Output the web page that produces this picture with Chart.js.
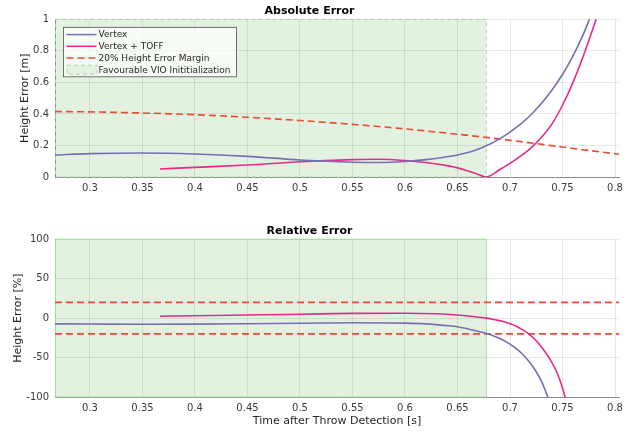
<!DOCTYPE html>
<html>
<head>
<meta charset="utf-8">
<title>Height Error</title>
<script src="https://cdn.jsdelivr.net/npm/chart.js@4.4.1/dist/chart.umd.min.js"></script>
<style>
  body { margin: 0; background: #fff; }
  #wrap { position: relative; width: 635px; height: 432px; }
  #absChart { position: absolute; left: 0; top: 0; }
  #relChart { position: absolute; left: 0; top: 220px; }
</style>
</head>
<body>
<div id="wrap">
  <canvas id="absChart" width="635" height="200"></canvas>
  <canvas id="relChart" width="635" height="212"></canvas>
</div>
<script>
// ---- data ----
const seriesNames = ['Vertex', 'Vertex + TOFF', '20% Height Error Margin', 'Favourable VIO Inititialization'];
const timeRange = [0.2667, 0.8038];
const vioEnd = 0.677;
const xTicks = [0.3, 0.35, 0.4, 0.45, 0.5, 0.55, 0.6, 0.65, 0.7, 0.75, 0.8];
const absTicks = [0, 0.2, 0.4, 0.6, 0.8, 1];
const relTicks = [-100, -50, 0, 50, 100];

// absolute error [m]
const vertexAbsT = [0.2667, 0.30, 0.35, 0.40, 0.45, 0.50, 0.55, 0.575, 0.60, 0.62, 0.64, 0.655, 0.667, 0.677, 0.69, 0.70, 0.71, 0.72, 0.73, 0.74, 0.75, 0.76, 0.77, 0.775, 0.78];
const vertexAbs  = [0.139, 0.148, 0.152, 0.146, 0.131, 0.108, 0.094, 0.092, 0.098, 0.110, 0.128, 0.148, 0.170, 0.196, 0.242, 0.285, 0.335, 0.395, 0.467, 0.552, 0.650, 0.768, 0.908, 0.990, 1.080];
const toffAbsT = [0.3667, 0.40, 0.45, 0.50, 0.55, 0.575, 0.60, 0.62, 0.64, 0.65, 0.66, 0.67, 0.677, 0.69, 0.70, 0.71, 0.72, 0.73, 0.74, 0.75, 0.76, 0.77, 0.78, 0.785];
const toffAbs  = [0.051, 0.061, 0.076, 0.097, 0.110, 0.113, 0.105, 0.092, 0.072, 0.058, 0.038, 0.016, 0.0, 0.046, 0.086, 0.132, 0.185, 0.252, 0.337, 0.455, 0.600, 0.770, 0.960, 1.060];
const marginT   = [0.2667, 0.30, 0.35, 0.40, 0.45, 0.50, 0.55, 0.60, 0.65, 0.677, 0.70, 0.75, 0.8038];
const marginAbs = [0.415, 0.413, 0.406, 0.395, 0.379, 0.358, 0.334, 0.305, 0.271, 0.251, 0.233, 0.190, 0.144];

// relative error [%]
const vertexRelT = [0.2667, 0.30, 0.35, 0.40, 0.45, 0.50, 0.55, 0.60, 0.62, 0.64, 0.65, 0.662, 0.6778, 0.6857, 0.6937, 0.70, 0.706, 0.7111, 0.7175, 0.7238, 0.7302, 0.7359, 0.738];
const vertexRel  = [-7.2, -7.5, -7.8, -7.6, -7.1, -6.5, -5.8, -6.3, -7.3, -9.5, -11, -14.3, -19.5, -23.3, -28, -33, -38.5, -44.5, -54, -65.5, -80.5, -100, -108];
const toffRelT = [0.3667, 0.40, 0.45, 0.50, 0.55, 0.60, 0.63, 0.65, 0.662, 0.6778, 0.6857, 0.6937, 0.70, 0.706, 0.7111, 0.7175, 0.7238, 0.7302, 0.738, 0.7444, 0.7492, 0.7524, 0.754];
const toffRel  = [2.5, 3.0, 4.0, 5.0, 6.0, 6.3, 5.5, 4.0, 2.5, 0, -2, -4.3, -7, -10.2, -14, -19.5, -27, -37, -52, -68, -85, -100, -110];
const relMargin = [20, -20];

// ---- styles ----
const FONT = 'DejaVu Sans';
const colVertex = '#7570b3';
const colToff = '#e7298a';
const colMargin = '#ec4a35';
const vioFill = '#e3f2e0';
const vioEdge = '#a3d89d';
const gridCol = 'rgba(0,0,0,0.09)';
const tickCol = '#3a3a3a';

Chart.defaults.font.family = FONT;
Chart.defaults.color = tickCol;

const pts = (ts, ys) => ts.map((t, i) => ({ x: t, y: ys[i] }));

function lineSet(label, data, color, dash) {
  return {
    label, data,
    borderColor: color, backgroundColor: color,
    borderWidth: 1.6, borderDash: dash || [],
    pointRadius: 0, fill: false,
    cubicInterpolationMode: 'monotone'
  };
}

// green "favourable VIO" area, fill under the grid, edge over the axes
const vioRegion = {
  id: 'vioRegion',
  beforeDraw(chart, args, opts) {
    const { ctx, chartArea: a, scales: { x } } = chart;
    const xe = x.getPixelForValue(vioEnd);
    ctx.save();
    ctx.fillStyle = vioFill;
    ctx.fillRect(a.left, a.top, xe - a.left, a.bottom - a.top);
    ctx.restore();
  },
  beforeDatasetsDraw(chart, args, opts) {
    const { ctx, chartArea: a, scales: { x } } = chart;
    const xe = x.getPixelForValue(vioEnd);
    ctx.save();
    ctx.strokeStyle = vioEdge;
    ctx.lineWidth = 1;
    ctx.setLineDash(opts.dash || []);
    ctx.strokeRect(a.left + 0.5, a.top, xe - a.left, a.bottom - a.top);
    ctx.restore();
  }
};

// legend box in the upper left corner of the top plot
const absLegend = {
  id: 'absLegend',
  afterDraw(chart) {
    const { ctx, chartArea: a } = chart;
    const x0 = a.left + 8.5, y0 = a.top + 8;
    const w = 173, h = 49.5, row = 11.7;
    ctx.save();
    ctx.fillStyle = 'rgba(255,255,255,0.7)';
    ctx.fillRect(x0, y0, w, h);
    ctx.strokeStyle = '#505050';
    ctx.lineWidth = 0.8;
    ctx.strokeRect(x0, y0, w, h);
    ctx.font = '9px "' + FONT + '"';
    ctx.textBaseline = 'middle';
    seriesNames.forEach((name, i) => {
      const y = y0 + 7.3 + i * row;
      const ds = chart.data.datasets[i];
      if (ds) {
        ctx.strokeStyle = ds.borderColor;
        ctx.lineWidth = 1.5;
        ctx.setLineDash(ds.borderDash);
        ctx.beginPath();
        ctx.moveTo(x0 + 3, y);
        ctx.lineTo(x0 + 33, y);
        ctx.stroke();
      } else {
        ctx.fillStyle = vioFill;
        ctx.fillRect(x0 + 3, y - 4.5, 30, 9);
        ctx.strokeStyle = vioEdge;
        ctx.lineWidth = 1;
        ctx.setLineDash([4, 3]);
        ctx.strokeRect(x0 + 3.5, y - 4.5, 30, 9);
      }
      ctx.setLineDash([]);
      ctx.fillStyle = '#262626';
      ctx.fillText(name, x0 + 35, y + 0.5);
    });
    ctx.restore();
  }
};

function makeOptions(title, yTitle, yMin, yMax, yTickVals, yTitlePad, xTitle, xHeight, dash) {
  return {
    responsive: false,
    animation: false,
    layout: { padding: { left: 0, right: 16, top: 0, bottom: 0 } },
    plugins: {
      legend: { display: false },
      tooltip: { enabled: false },
      title: {
        display: true, text: title, color: '#000',
        font: { size: 11, weight: 'bold', family: FONT },
        padding: { top: 4.4, bottom: 1.7 }
      },
      vioRegion: { dash }
    },
    scales: {
      x: {
        type: 'linear', min: timeRange[0], max: timeRange[1],
        afterBuildTicks: s => { s.ticks = xTicks.map(v => ({ value: v })); },
        afterFit: s => { s.height = xHeight; },
        ticks: { font: { size: 10 }, color: tickCol, padding: 5, maxRotation: 0,
                 callback: v => String(+v.toFixed(2)) },
        grid: { color: gridCol, drawTicks: false },
        border: { color: '#8a8a8a', width: 1 },
        title: { display: !!xTitle, text: xTitle, color: '#262626',
                 font: { size: 11 }, padding: { top: 0, bottom: 4.4 } }
      },
      y: {
        min: yMin, max: yMax,
        afterBuildTicks: s => { s.ticks = yTickVals.map(v => ({ value: v })); },
        afterFit: s => { s.width = 55; },
        ticks: { font: { size: 10 }, color: tickCol, padding: 6,
                 callback: v => String(+v.toFixed(1)) },
        grid: { color: gridCol, drawTicks: false },
        border: { color: '#8a8a8a', width: 1 },
        title: { display: true, text: yTitle, color: '#262626',
                 font: { size: 11 }, padding: { top: yTitlePad, bottom: 0 } }
      }
    }
  };
}

new Chart(document.getElementById('absChart'), {
  type: 'line',
  data: {
    datasets: [
      lineSet(seriesNames[0], pts(vertexAbsT, vertexAbs), colVertex),
      lineSet(seriesNames[1], pts(toffAbsT, toffAbs), colToff),
      lineSet(seriesNames[2], pts(marginT, marginAbs), colMargin, [7, 4])
    ]
  },
  options: makeOptions('Absolute Error', 'Height Error [m]', 0, 1, absTicks, 18.9, '', 23, [4, 3]),
  plugins: [vioRegion, absLegend]
});

new Chart(document.getElementById('relChart'), {
  type: 'line',
  data: {
    datasets: [
      lineSet(seriesNames[0], pts(vertexRelT, vertexRel), colVertex),
      lineSet(seriesNames[1], pts(toffRelT, toffRel), colToff),
      lineSet(seriesNames[2], pts(timeRange, [relMargin[0], relMargin[0]]), colMargin, [7, 4]),
      lineSet(seriesNames[2], pts(timeRange, [relMargin[1], relMargin[1]]), colMargin, [7, 4])
    ]
  },
  options: makeOptions('Relative Error', 'Height Error [%]', -100, 100, relTicks, 11.7, 'Time after Throw Detection [s]', 35, []),
  plugins: [vioRegion]
});
</script>
</body>
</html>
